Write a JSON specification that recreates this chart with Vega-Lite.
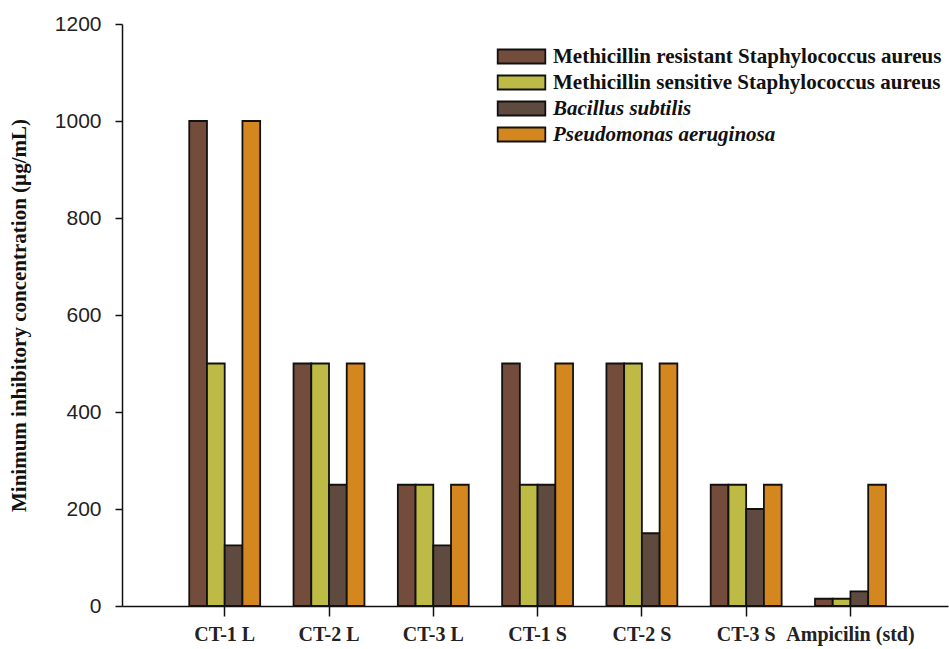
{
  "$schema": "https://vega.github.io/schema/vega-lite/v6.json",
  "width": 826,
  "height": 582,
  "autosize": {"type": "none"},
  "padding": {"left": 122, "top": 24, "right": 1, "bottom": 43},
  "background": "white",
  "data": {
    "values": [
      {"extract": "CT-1 L", "organism": "Methicillin resistant Staphylococcus aureus", "mic": 1000},
      {"extract": "CT-1 L", "organism": "Methicillin sensitive Staphylococcus aureus", "mic": 500},
      {"extract": "CT-1 L", "organism": "Bacillus subtilis", "mic": 125},
      {"extract": "CT-1 L", "organism": "Pseudomonas aeruginosa", "mic": 1000},
      {"extract": "CT-2 L", "organism": "Methicillin resistant Staphylococcus aureus", "mic": 500},
      {"extract": "CT-2 L", "organism": "Methicillin sensitive Staphylococcus aureus", "mic": 500},
      {"extract": "CT-2 L", "organism": "Bacillus subtilis", "mic": 250},
      {"extract": "CT-2 L", "organism": "Pseudomonas aeruginosa", "mic": 500},
      {"extract": "CT-3 L", "organism": "Methicillin resistant Staphylococcus aureus", "mic": 250},
      {"extract": "CT-3 L", "organism": "Methicillin sensitive Staphylococcus aureus", "mic": 250},
      {"extract": "CT-3 L", "organism": "Bacillus subtilis", "mic": 125},
      {"extract": "CT-3 L", "organism": "Pseudomonas aeruginosa", "mic": 250},
      {"extract": "CT-1 S", "organism": "Methicillin resistant Staphylococcus aureus", "mic": 500},
      {"extract": "CT-1 S", "organism": "Methicillin sensitive Staphylococcus aureus", "mic": 250},
      {"extract": "CT-1 S", "organism": "Bacillus subtilis", "mic": 250},
      {"extract": "CT-1 S", "organism": "Pseudomonas aeruginosa", "mic": 500},
      {"extract": "CT-2 S", "organism": "Methicillin resistant Staphylococcus aureus", "mic": 500},
      {"extract": "CT-2 S", "organism": "Methicillin sensitive Staphylococcus aureus", "mic": 500},
      {"extract": "CT-2 S", "organism": "Bacillus subtilis", "mic": 150},
      {"extract": "CT-2 S", "organism": "Pseudomonas aeruginosa", "mic": 500},
      {"extract": "CT-3 S", "organism": "Methicillin resistant Staphylococcus aureus", "mic": 250},
      {"extract": "CT-3 S", "organism": "Methicillin sensitive Staphylococcus aureus", "mic": 250},
      {"extract": "CT-3 S", "organism": "Bacillus subtilis", "mic": 200},
      {"extract": "CT-3 S", "organism": "Pseudomonas aeruginosa", "mic": 250},
      {"extract": "Ampicilin (std)", "organism": "Methicillin resistant Staphylococcus aureus", "mic": 15},
      {"extract": "Ampicilin (std)", "organism": "Methicillin sensitive Staphylococcus aureus", "mic": 15},
      {"extract": "Ampicilin (std)", "organism": "Bacillus subtilis", "mic": 30},
      {"extract": "Ampicilin (std)", "organism": "Pseudomonas aeruginosa", "mic": 250}
    ]
  },
  "mark": {"type": "bar", "stroke": "#111111", "strokeWidth": 1.8},
  "encoding": {
    "x": {
      "field": "extract",
      "type": "nominal",
      "sort": null,
      "title": null,
      "scale": {"paddingInner": 0.32, "paddingOuter": 0.62, "align": 0.52},
      "axis": {
        "labelAngle": 0,
        "labelFont": "Liberation Serif",
        "labelFontWeight": "bold",
        "labelFontSize": 20,
        "labelColor": "#222222",
        "labelPadding": 8,
        "tickSize": 10,
        "tickColor": "#111111",
        "domainColor": "#111111",
        "domainWidth": 1.5,
        "tickWidth": 1.5
      }
    },
    "xOffset": {
      "field": "organism",
      "type": "nominal",
      "sort": null,
      "scale": {"paddingInner": 0, "paddingOuter": 0}
    },
    "y": {
      "field": "mic",
      "type": "quantitative",
      "title": "Minimum inhibitory  concentration (µg/mL)",
      "scale": {"domain": [0, 1200], "nice": false},
      "axis": {
        "values": [0, 200, 400, 600, 800, 1000, 1200],
        "format": "d",
        "grid": false,
        "labelFont": "Liberation Sans",
        "labelFontSize": 21,
        "labelColor": "#222222",
        "labelPadding": 14,
        "tickSize": 7,
        "tickColor": "#111111",
        "tickWidth": 1.5,
        "domainColor": "#111111",
        "domainWidth": 1.5,
        "titleFont": "Liberation Serif",
        "titleFontWeight": "bold",
        "titleFontSize": 21,
        "titleColor": "#111111",
        "titlePadding": 25
      }
    },
    "fill": {
      "field": "organism",
      "type": "nominal",
      "sort": null,
      "scale": {
        "domain": ["Methicillin resistant Staphylococcus aureus", "Methicillin sensitive Staphylococcus aureus", "Bacillus subtilis", "Pseudomonas aeruginosa"],
        "range": ["#744c3b", "#bdba45", "#5e4a3e", "#d4861f"]
      },
      "legend": {
        "title": null,
        "orient": "none",
        "legendX": 389,
        "legendY": 22,
        "symbolType": "M-3.4,-1H3.4V1H-3.4Z",
        "symbolSize": 196,
        "symbolStrokeColor": "#111111",
        "symbolStrokeWidth": 1.8,
        "labelFont": "Liberation Serif",
        "labelFontWeight": "bold",
        "labelFontSize": 21,
        "labelColor": "#111111",
        "labelOffset": 21,
        "labelLimit": 500,
        "rowPadding": 3,
        "encode": {
          "labels": {
            "update": {
              "fontStyle": {"signal": "indexof(datum.label, 'Methicillin') === 0 ? 'normal' : 'italic'"}
            }
          }
        }
      }
    }
  },
  "config": {"view": {"stroke": null}}
}
